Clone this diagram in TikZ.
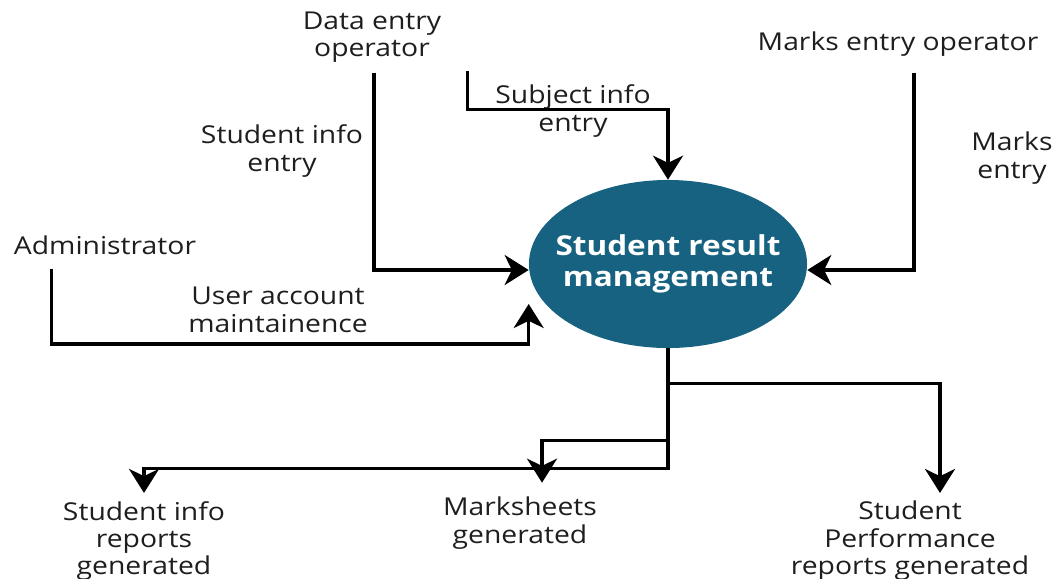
\documentclass[tikz,border=0pt]{standalone}
\usepackage{fontspec}
\setmainfont[FakeStretch=1.15]{Open Sans}
\usetikzlibrary{arrows.meta,shapes.geometric}
\definecolor{procblue}{RGB}{22,98,128}
\definecolor{inkgray}{RGB}{30,30,30}
\tikzset{
  dfd_t/.style = {align=center, inner sep=0pt, text centered, text=inkgray, font=\fontsize{17.5}{19.5}\selectfont},
  dfd_p/.style = {ellipse, fill=procblue, draw=none, inner sep=0pt, minimum width=6.95cm, minimum height=4.2cm},
  dfd_f/.style = {line width=2.4pt, -{Stealth[length=0.6cm, width=0.75cm, inset=0.18cm]}},
}

\begin{document}
\begin{tikzpicture}[x=0.025cm, y=-0.025cm]
  \useasboundingbox (0,0) rectangle (1054,579);
  % process
  \node [dfd_p, label={[text=white, align=center, font=\bfseries\fontsize{19.5}{22}\selectfont]center:Student result\\management}] (srm) at (668,264) {};
  % entities
  \node [dfd_t] (deo) at (372,37) {Data entry\\operator};
  \node [dfd_t] (meo) at (898,44) {Marks entry operator};
  \node [dfd_t] (adm) at (105,245) {Administrator};
  % flow labels
  \node [dfd_t] (sie) at (282,151) {Student info\\entry};
  \node [dfd_t] (sbe) at (573,111) {Subject info\\entry};
  \node [dfd_t] (mke) at (1012,158) {Marks\\entry};
  \node [dfd_t] (uam) at (278,310) {User account\\maintainence};
  % outputs
  \node [dfd_t] (sir) at (144,541) {Student info\\reports\\generated};
  \node [dfd_t] (msg) at (520,523) {Marksheets\\generated};
  \node [dfd_t] (spr) at (910,541) {Student\\Performance\\reports generated};

  % inputs
  \draw [dfd_f] ([xshift=0.05cm,yshift=-0.25cm]deo.south) |- ([yshift=-0.15cm]srm.west);
  \draw [dfd_f] ([xshift=0.65cm,yshift=-0.2cm]deo.south east) |- ([yshift=1.75cm]srm.north) -- (srm.north);
  \draw [dfd_f] ([xshift=0.4cm,yshift=-0.4cm]meo.south) |- ([yshift=-0.15cm]srm.east);
  \draw [dfd_f] ([xshift=0.95cm,yshift=-0.35cm]adm.south west) |- ([yshift=-2cm]srm.west) -- ([yshift=-1cm]srm.west);
  % outputs
  \draw [dfd_f] (srm.south) -- ++(0,-0.875cm) -| ([xshift=0.75cm,yshift=0.2cm]spr.north);
  \draw [dfd_f] (srm.south) -- ++(0,-2.3cm) -| ([xshift=0.55cm,yshift=0.35cm]msg.north);
  \draw [dfd_f] (srm.south) -- ++(0,-3cm) -| ([yshift=0.2cm]sir.north);
\end{tikzpicture}
\end{document}
